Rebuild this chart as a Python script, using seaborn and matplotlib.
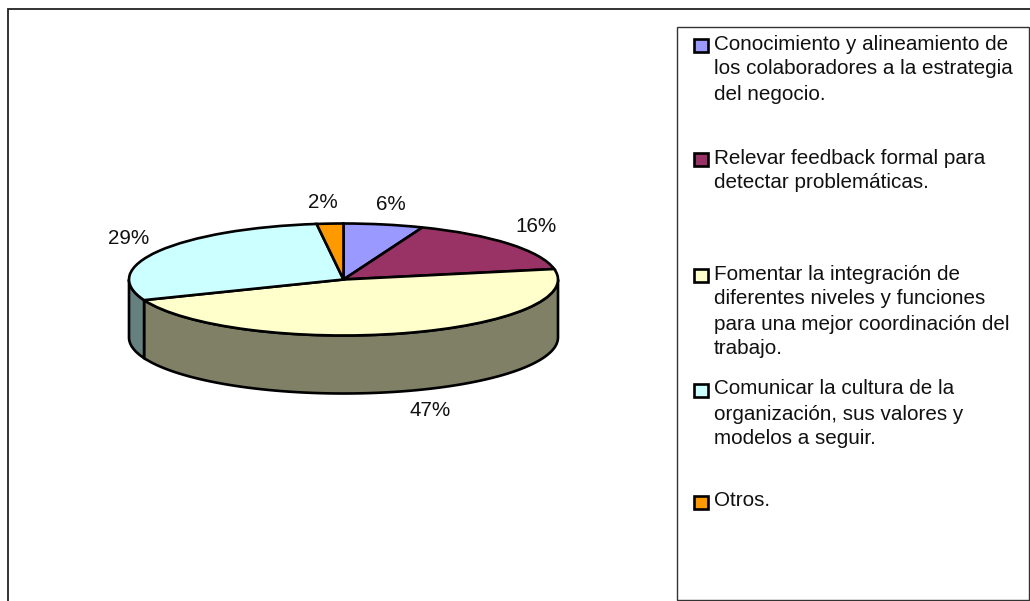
import numpy as np
import matplotlib
matplotlib.use("Agg")
import matplotlib.pyplot as plt
from matplotlib.patches import Rectangle
import seaborn as sns

# values
categories = [
    "Conocimiento y alineamiento de\nlos colaboradores a la estrategia\ndel negocio.",
    "Relevar feedback formal para\ndetectar problemáticas.",
    "Fomentar la integración de\ndiferentes niveles y funciones\npara una mejor coordinación del\ntrabajo.",
    "Comunicar la cultura de la\norganización, sus valores y\nmodelos a seguir.",
    "Otros.",
]
values = [6, 16, 47, 29, 2]
colors = ["#9999FF", "#993366", "#FFFFCC", "#CCFFFF", "#FF9900"]

# layout, in pixels of the 1030x601 picture
WIDTH, HEIGHT = 1030, 601
CENTER_X, CENTER_Y = 343.5, 279.5
RADIUS_X, RADIUS_Y = 214.5, 56
DEPTH = 58
PCT_POS = [(391, 204), (536, 226), (430, 411), (129, 238), (323, 203)]
LEGEND_TEXT_Y = [34.5, 148.5, 264.5, 379.5, 491.5]
LEGEND_BOX_Y = [45, 159.5, 275, 390, 502.5]
FONT_SIZE = 14.9

sns.set_theme(style="white")
plt.rcParams["font.family"] = ["Liberation Sans", "DejaVu Sans"]


def draw_sides(ax, values, colors):
    # only the front half of the cylinder wall shows
    depth = DEPTH / RADIUS_Y
    ends = np.cumsum(values) / sum(values)
    starts = ends - np.array(values) / sum(values)
    for start, end, color in zip(starts, ends, colors):
        # clockwise from the top, as the pie runs
        a = max(start * 360, 90)
        b = min(end * 360, 270)
        if a >= b:
            continue
        t = np.radians(90 - np.linspace(a, b, 80))
        x = np.cos(t)
        y = np.sin(t)
        px = np.r_[x, x[::-1]]
        py = np.r_[y, y[::-1] - depth]
        dark = tuple(np.array(matplotlib.colors.to_rgb(color)) * 0.5)
        ax.fill(px, py, facecolor=dark, edgecolor="black", linewidth=1.9, zorder=1)


fig = plt.figure(figsize=(WIDTH / 100, HEIGHT / 100), dpi=100, facecolor="white")

# the pie axes is squashed so that the circle becomes the flat ellipse
ax = fig.add_axes([0, 0, 1, 1])
ax.pie(values, colors=sns.color_palette(colors), startangle=90, counterclock=False,
       wedgeprops={"edgecolor": "black", "linewidth": 1.9})
for wedge in ax.patches:
    wedge.set_zorder(2)
draw_sides(ax, values, colors)
ax.set_aspect("auto")
ax.set_xlim(-CENTER_X / RADIUS_X, (WIDTH - CENTER_X) / RADIUS_X)
ax.set_ylim(-(HEIGHT - CENTER_Y) / RADIUS_Y, CENTER_Y / RADIUS_Y)
ax.axis("off")

# frame, legend and labels sit on a pixel overlay
over = fig.add_axes([0, 0, 1, 1])
over.set_xlim(0, WIDTH)
over.set_ylim(HEIGHT, 0)
over.patch.set_alpha(0)
over.axis("off")

over.plot([8, 8, WIDTH], [HEIGHT, 9, 9], color="#222222", linewidth=1.3, solid_joinstyle="miter")
over.add_patch(Rectangle((677, 27), 351.5, 573, facecolor="white", edgecolor="#333333", linewidth=1.0))

for v, (x, y) in zip(values, PCT_POS):
    over.text(x, y, f"{v}%", ha="center", va="center", fontsize=FONT_SIZE, color="#111111")

for label, color, ty, by in zip(categories, colors, LEGEND_TEXT_Y, LEGEND_BOX_Y):
    over.add_patch(Rectangle((694, by - 6.5), 14, 13, facecolor=color, edgecolor="black", linewidth=1.9))
    over.text(714, ty, label, ha="left", va="top", fontsize=FONT_SIZE, color="#111111", linespacing=1.4)

fig.savefig("out.png", dpi=100)
